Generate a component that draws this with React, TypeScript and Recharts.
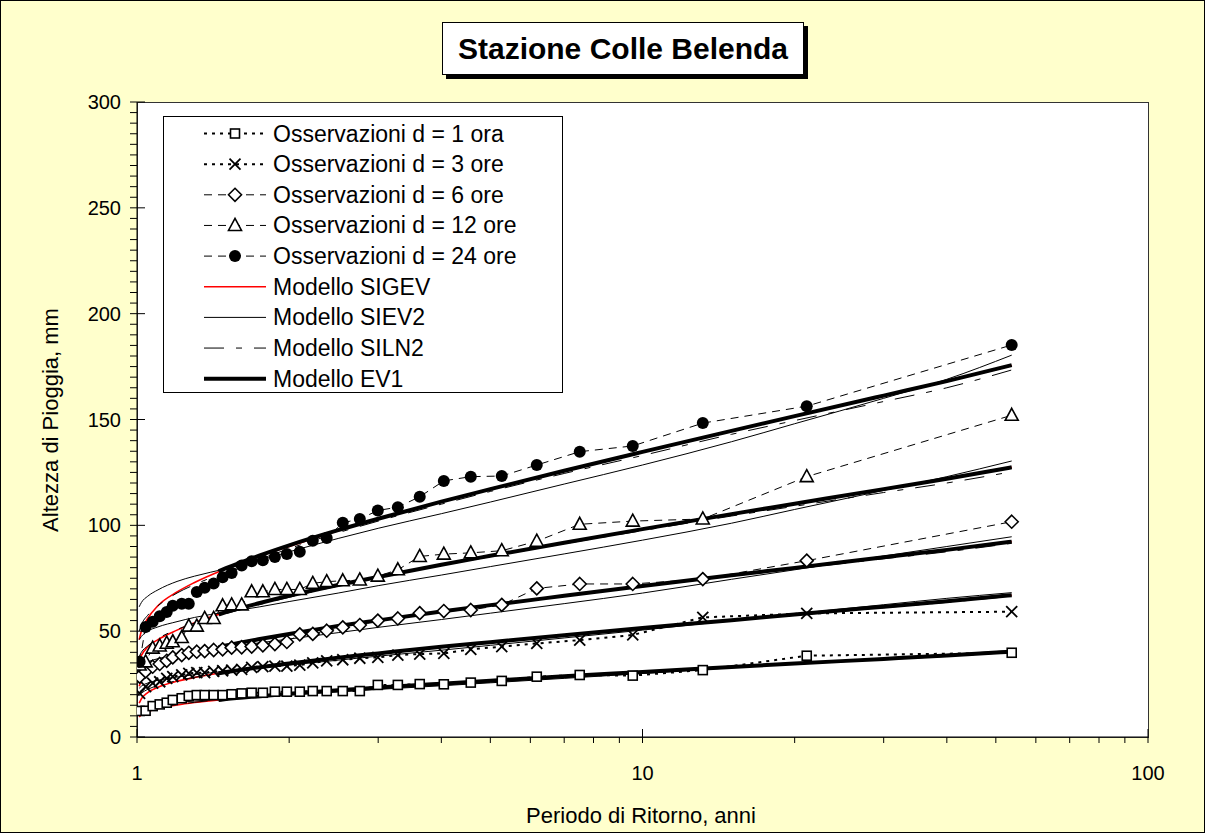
import React from "react";
import { LineChart, Line, XAxis, YAxis } from "recharts";

// Tempi di ritorno (anni) delle osservazioni, comuni a tutte le durate
const periodiOss = [
  1.012, 1.04, 1.074, 1.109, 1.145, 1.177, 1.226, 1.266, 1.313, 1.361, 1.418, 1.477,
  1.539, 1.611, 1.686, 1.774, 1.874, 1.979, 2.099, 2.227, 2.373, 2.553, 2.759, 2.995,
  3.281, 3.625, 4.045, 4.574, 5.267, 6.178, 7.513, 9.565, 13.16, 21.13, 53.75,
];

// Altezze osservate (mm)
const oss1 = [
  12.3, 12.4, 14.6, 15.4, 16.2, 17.5, 18.3, 19.4, 19.8, 19.8, 19.8, 19.8, 20.2, 20.6, 20.9,
  20.9, 21.4, 21.4, 21.4, 21.7, 21.7, 21.7, 21.7, 24.6, 24.6, 25, 24.9, 25.7, 26.5, 28.5,
  29.3, 29, 31.6, 38.4, 39.8,
];
const oss3 = [
  20.6, 23.8, 25.4, 26.1, 27.7, 28.5, 29.3, 30.1, 30.4, 30.4, 31, 31.3, 31.6, 32, 32.9, 33.3,
  33.5, 33.5, 34, 35, 36, 36.5, 37.2, 37.6, 38.7, 39.2, 39.5, 41.4, 42.7, 44.2, 45.8, 48.2,
  56.5, 58.4, 59.2,
];
const oss6 = [
  28.5, 31, 33.2, 34.5, 36, 37.6, 38.7, 39.8, 40.3, 40.6, 41.1, 41.4, 42.2, 42.4, 42.7, 43.3,
  43.9, 44.9, 48.5, 48.7, 50.2, 51.8, 52.9, 55, 56, 58.5, 59.5, 60, 62.4, 70.2, 72.3, 72.3,
  74.6, 83.3, 101.7,
];
const oss12 = [
  34, 35.5, 42, 43, 44.3, 45, 47, 52.4, 52.4, 56, 56, 62, 62.4, 62.4, 68.6, 68.6, 69.7, 69.7,
  69.7, 72.6, 73.4, 73.8, 74.2, 76, 79, 85.3, 86.4, 87, 88, 92.5, 100.5, 102, 103, 123, 152,
];
const oss24 = [
  35.5, 52, 54.5, 57, 59, 62, 63, 63, 68.5, 70.5, 72.5, 75.5, 77.5, 81, 83, 83.5, 85, 86.5,
  87.5, 92.7, 94, 101.2, 103, 107, 108.6, 113.5, 121, 123, 123.3, 128.5, 134.8, 137.5, 148.3,
  156.3, 185.2,
];

// Tempi di ritorno delle curve dei modelli
const periodiMod = [1.01, 1.02, 1.05, 1.1, 1.2, 1.3, 1.5, 1.75, 2, 2.5, 3, 4, 5, 7, 10, 15, 20, 30, 40, 53.75];
const periodiEv1 = [1.45, 1.5, 1.75, 2, 2.5, 3, 4, 5, 7, 10, 15, 20, 30, 40, 53.75];

// Modello SIGEV
const sigev1 = [9.5, 10.5, 12, 13.4, 15.1, 16.3, 17.9, 19.3, 20.4, 22.1, 23.35, 25.2, 26.6, 28.65, 30.7, 33.05, 34.7, 36.9, 38.5, 40.3];
const sigev3 = [16, 18, 21, 23.5, 26.3, 28.1, 30.7, 33, 34.75, 37.5, 39.5, 42.6, 44.8, 48.1, 51.5, 55.2, 57.9, 61.55, 64.1, 67];
const sigev6 = [24, 26.5, 30, 33, 37, 39.5, 43, 46.3, 48.7, 52.4, 55.1, 59.25, 62.3, 66.7, 71.3, 76.4, 79.9, 84.9, 88.4, 92.3];
const sigev12 = [36, 38.5, 42.5, 46, 50.5, 54, 59, 63.3, 66.7, 71.8, 75.6, 81.4, 85.6, 91.8, 98.2, 105.3, 110.2, 117.1, 122, 127.4];
const sigev24 = [46, 50, 56, 62, 68.5, 73, 79.5, 85.5, 90, 97.5, 103, 111, 117, 125.5, 134.5, 144.5, 151.5, 161, 168, 175.5];

// Modello SIEV2
const siev1 = [13, 13.6, 14.5, 15.3, 16.3, 17, 18, 19, 19.9, 21.3, 22.5, 24.2, 25.6, 27.7, 30, 32.7, 34.6, 37.2, 39, 40.8];
const siev3 = [23, 24, 25.5, 26.8, 28.3, 29.5, 31, 32.6, 34, 36.3, 38.2, 41, 43.3, 46.8, 50.5, 55, 58.2, 62.5, 65.5, 68.2];
const siev6 = [33, 34, 35.5, 37, 39, 40.5, 42.5, 44.5, 46.3, 49.3, 51.8, 55.5, 58.5, 63, 68, 74.5, 79, 85.5, 90, 94.6];
const siev12 = [46, 47.5, 50, 52, 54.5, 56.5, 59, 61.5, 64, 68, 71.5, 76.5, 80.5, 86.5, 93, 101, 107.5, 116.5, 123, 130.4];
const siev24 = [61.5, 63.5, 66.5, 69.5, 73.5, 76, 79.5, 83.5, 87.5, 93.8, 98.6, 105.5, 111, 119.5, 128.5, 139.5, 148, 160, 169, 180.4];

// Modello SILN2
const siln1 = [11, 11.6, 12.8, 13.9, 15.3, 16.4, 17.9, 19.3, 20.4, 22, 23.3, 25.1, 26.5, 28.5, 30.5, 32.8, 34.4, 36.6, 38.1, 40];
const siln3 = [19.5, 20.6, 22.5, 24.3, 26.6, 28.2, 30.6, 32.8, 34.6, 37.3, 39.3, 42.4, 44.6, 47.9, 51.2, 54.9, 57.5, 61.1, 63.6, 66.5];
const siln6 = [28, 29.5, 31.8, 34.3, 37.5, 39.7, 43, 46, 48.4, 52.2, 55, 59.2, 62.2, 66.5, 71, 76, 79.4, 84.2, 87.5, 91.5];
const siln12 = [38, 40, 43, 46.5, 50.8, 53.8, 58.3, 62.6, 66, 71.3, 75.2, 81, 85.2, 91.3, 97.5, 104.4, 109, 115.5, 120, 125.3];
const siln24 = [50, 53, 57.5, 62, 68, 72, 78, 84, 89, 96.5, 102, 110, 116, 124.5, 133, 143, 149.5, 158.5, 165, 173.4];

// Modello EV1
const ev1_1 = [17.5, 17.9, 19.3, 20.4, 22.1, 23.35, 25.2, 26.6, 28.65, 30.7, 33.05, 34.7, 36.9, 38.5, 40.3];
const ev1_3 = [30.1, 30.7, 33, 34.75, 37.5, 39.5, 42.6, 44.8, 48.1, 51.5, 55.2, 57.9, 61.55, 64.1, 67];
const ev1_6 = [42.4, 43.2, 46.3, 48.7, 52.4, 55.1, 59.25, 62.3, 66.7, 71.3, 76.4, 79.9, 84.9, 88.4, 92.3];
const ev1_12 = [57.9, 59, 63.3, 66.7, 71.8, 75.6, 81.4, 85.6, 91.8, 98.2, 105.3, 110.2, 117.1, 122, 127.4];
const ev1_24 = [78.3, 79.75, 85.8, 90.55, 97.7, 103.1, 111.2, 117.1, 125.8, 134.7, 144.65, 151.6, 161.3, 168.15, 175.7];

// Assi
const tickX = [1, 2, 3, 4, 5, 6, 7, 8, 9, 10, 20, 30, 40, 50, 60, 70, 80, 90, 100];
const etichetteX = [1, 10, 100];
const etichetteY = [0, 50, 100, 150, 200, 250, 300];
const passoMinoreY = 5;
const tickY = Array.from({ length: 300 / passoMinoreY + 1 }, (_, i) => i * passoMinoreY);

const FONT = "'Liberation Sans', Arial, sans-serif";

const punti = (xs: number[], ys: number[]) => xs.map((T, i) => ({ T, h: ys[i] }));

type Simbolo = "quadrato" | "croce" | "rombo" | "triangolo" | "cerchio";

const Marker = ({ cx, cy, tipo }: { cx: number; cy: number; tipo: Simbolo }) => {
  if (cx == null || cy == null) return null;
  switch (tipo) {
    case "quadrato":
      return <rect x={cx - 4.5} y={cy - 4.5} width={9} height={9} fill="#fff" stroke="#000" strokeWidth={1.6} />;
    case "croce":
      return (
        <g stroke="#000" strokeWidth={1.8}>
          <line x1={cx - 5.5} y1={cy - 5.5} x2={cx + 5.5} y2={cy + 5.5} />
          <line x1={cx - 5.5} y1={cy + 5.5} x2={cx + 5.5} y2={cy - 5.5} />
        </g>
      );
    case "rombo":
      return (
        <polygon
          points={`${cx},${cy - 6.5} ${cx + 6.5},${cy} ${cx},${cy + 6.5} ${cx - 6.5},${cy}`}
          fill="#fff"
          stroke="#000"
          strokeWidth={1.6}
        />
      );
    case "triangolo":
      return (
        <polygon
          points={`${cx},${cy - 7} ${cx + 6.5},${cy + 5} ${cx - 6.5},${cy + 5}`}
          fill="#fff"
          stroke="#000"
          strokeWidth={1.6}
        />
      );
    default:
      return <circle cx={cx} cy={cy} r={6} fill="#000" />;
  }
};

const osservazioni = [
  { nome: "Osservazioni d = 1 ora", valori: oss1, dash: "3 5", w: 2, simbolo: "quadrato" as Simbolo },
  { nome: "Osservazioni d = 3 ore", valori: oss3, dash: "3 5", w: 2, simbolo: "croce" as Simbolo },
  { nome: "Osservazioni d = 6 ore", valori: oss6, dash: "8 6", w: 1, simbolo: "rombo" as Simbolo },
  { nome: "Osservazioni d = 12 ore", valori: oss12, dash: "8 6", w: 1, simbolo: "triangolo" as Simbolo },
  { nome: "Osservazioni d = 24 ore", valori: oss24, dash: "8 6", w: 1, simbolo: "cerchio" as Simbolo },
];

const modelli = [
  { nome: "Modello SIGEV", periodi: periodiMod, serie: [sigev1, sigev3, sigev6, sigev12, sigev24], colore: "#ff0000", w: 1.6, dash: undefined },
  { nome: "Modello SIEV2", periodi: periodiMod, serie: [siev1, siev3, siev6, siev12, siev24], colore: "#000", w: 1, dash: undefined },
  { nome: "Modello SILN2", periodi: periodiMod, serie: [siln1, siln3, siln6, siln12, siln24], colore: "#000", w: 1, dash: "20 12 6 12" },
  { nome: "Modello EV1", periodi: periodiEv1, serie: [ev1_1, ev1_3, ev1_6, ev1_12, ev1_24], colore: "#000", w: 4, dash: undefined },
];

const TickY = (props: any) => {
  const { x, y, payload } = props;
  const v = payload.value;
  const maggiore = etichetteY.includes(v);
  return (
    <g>
      <line x1={x - 7} x2={maggiore ? x + 8 : x} y1={y} y2={y} stroke="#000" />
      {maggiore && (
        <text x={x - 16} y={y + 7} textAnchor="end" fontSize={20} fontFamily={FONT} fill="#000">
          {v}
        </text>
      )}
    </g>
  );
};

const TickX = (props: any) => {
  const { x, y, payload } = props;
  const v = payload.value;
  const maggiore = etichetteX.includes(v);
  return (
    <g>
      <line x1={x} x2={x} y1={maggiore ? y - 8 : y} y2={y + 6} stroke="#000" />
      {maggiore && (
        <text x={x} y={y + 43} textAnchor="middle" fontSize={20} fontFamily={FONT} fill="#000">
          {v}
        </text>
      )}
    </g>
  );
};

const Legenda = () => {
  const voci = [
    ...osservazioni.map((o) => ({ nome: o.nome, colore: "#000", w: o.w, dash: o.dash, simbolo: o.simbolo as Simbolo | null })),
    ...modelli.map((m) => ({ nome: m.nome, colore: m.colore, w: m.w, dash: m.dash, simbolo: null as Simbolo | null })),
  ];
  return (
    <svg width={400} height={278} style={{ position: "absolute", left: 162, top: 115 }}>
      <rect x={0.5} y={0.5} width={399} height={276} fill="#fff" stroke="#000" />
      {voci.map((v, i) => {
        const y = 17.5 + i * 30.65;
        return (
          <g key={v.nome}>
            <line x1={41} x2={103} y1={y} y2={y} stroke={v.colore} strokeWidth={v.w} strokeDasharray={v.dash} />
            {v.simbolo && <Marker cx={72} cy={y} tipo={v.simbolo} />}
            <text x={110} y={y + 8} fontSize={23} fontFamily={FONT} fill="#000">
              {v.nome}
            </text>
          </g>
        );
      })}
    </svg>
  );
};

export default function App() {
  return (
    <div
      style={{
        position: "absolute",
        left: 0,
        top: 0,
        width: 1205,
        height: 833,
        background: "#ffffcc",
        border: "1px solid #000",
        boxSizing: "border-box",
        fontFamily: FONT,
      }}
    >
      {/* area del grafico */}
      <div
        style={{
          position: "absolute",
          left: 136,
          top: 101,
          width: 1012,
          height: 636,
          background: "#fff",
          border: "1px solid #333",
          boxSizing: "border-box",
        }}
      />
      <div style={{ position: "absolute", left: -1, top: -1 }}>
        <LineChart width={1205} height={833} margin={{ top: 102, right: 57, bottom: 56, left: 77 }}>
          <XAxis
            dataKey="T"
            type="number"
            scale="log"
            domain={[1, 100]}
            allowDataOverflow
            ticks={tickX}
            interval={0}
            height={40}
            tickSize={0}
            tickMargin={0}
            tick={<TickX />}
            axisLine={{ stroke: "#000" }}
            tickLine={false}
          />
          <YAxis
            type="number"
            domain={[0, 300]}
            ticks={tickY}
            interval={0}
            width={60}
            tickSize={0}
            tickMargin={0}
            tick={<TickY />}
            axisLine={{ stroke: "#000" }}
            tickLine={false}
          />
          {osservazioni.map((o) => (
            <Line
              key={o.nome}
              data={punti(periodiOss, o.valori)}
              dataKey="h"
              type="linear"
              stroke="#000"
              strokeWidth={o.w}
              strokeDasharray={o.dash}
              dot={(p: any) => <Marker key={`${o.nome}-${p.index}`} cx={p.cx} cy={p.cy} tipo={o.simbolo} />}
              activeDot={false}
              isAnimationActive={false}
            />
          ))}
          {modelli.map((m) =>
            m.serie.map((valori, j) => (
              <Line
                key={`${m.nome}-${j}`}
                data={punti(m.periodi, valori)}
                dataKey="h"
                type="monotone"
                stroke={m.colore}
                strokeWidth={m.w}
                strokeDasharray={m.dash}
                dot={false}
                activeDot={false}
                isAnimationActive={false}
              />
            ))
          )}
        </LineChart>
      </div>

      <Legenda />

      {/* titolo */}
      <div
        style={{
          position: "absolute",
          left: 441,
          top: 21,
          width: 362,
          height: 53,
          background: "#fff",
          border: "1px solid #000",
          boxShadow: "4px 4px 0 #000",
          boxSizing: "border-box",
          display: "flex",
          alignItems: "center",
          justifyContent: "center",
          fontWeight: "bold",
          fontSize: 30,
          color: "#000",
        }}
      >
        Stazione Colle Belenda
      </div>

      <svg width={1205} height={833} style={{ position: "absolute", left: -1, top: -1, pointerEvents: "none" }}>
        <text x={641} y={823} textAnchor="middle" fontSize={22} fontFamily={FONT} fill="#000">
          Periodo di Ritorno, anni
        </text>
        <text
          x={0}
          y={0}
          transform="translate(58 420) rotate(-90)"
          textAnchor="middle"
          fontSize={22}
          fontFamily={FONT}
          fill="#000"
        >
          Altezza di Pioggia, mm
        </text>
      </svg>
    </div>
  );
}
